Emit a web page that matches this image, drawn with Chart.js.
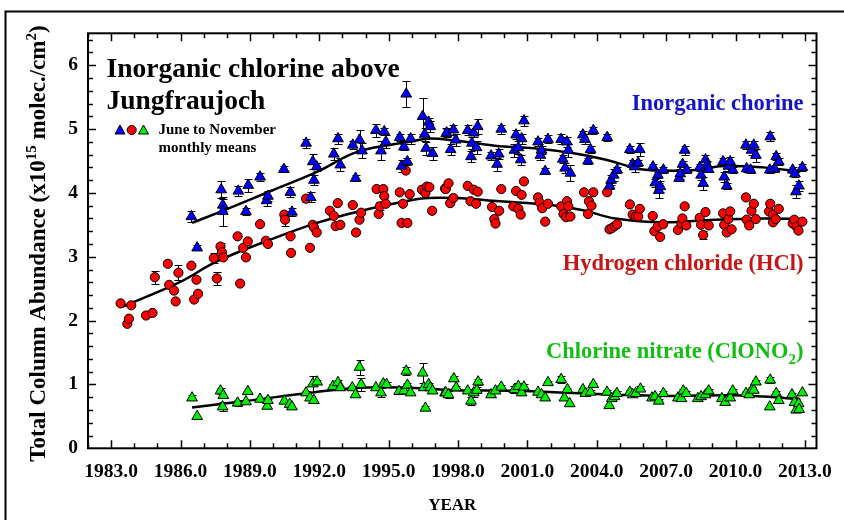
<!DOCTYPE html>
<html>
<head>
<meta charset="utf-8">
<script src="https://cdn.jsdelivr.net/npm/chart.js@4.4.1/dist/chart.umd.min.js"></script>
<style>
  html, body { margin: 0; padding: 0; background: #fff; }
  #wrap { width: 844px; height: 520px; }
</style>
</head>
<body>
<div id="wrap"><canvas id="myChart" width="844" height="520"></canvas></div>
<script>
// June-November monthly means, [year, value, error] (x10^15 molec./cm2)
var inorgPts = [
  [1986.47,3.63,0.08],[1986.72,3.14,0.04],[1987.76,4.05,0.13],[1987.83,3.81,0.10],[1987.83,3.71,0.23],
  [1988.50,4.03,0.08],[1988.83,3.71,0.05],[1988.93,4.12,0.10],[1989.44,4.25,0.06],[1989.72,3.88,0.08],
  [1989.78,3.95,0.08],[1990.47,4.37,0.05],[1990.75,4.01,0.08],[1990.82,3.70,0.06],[1991.43,4.78,0.07],
  [1991.63,3.93,0.08],[1991.72,4.49,0.12],[1991.77,4.20,0.08],[1991.89,4.41,0.06],[1992.63,4.61,0.10],
  [1992.81,4.85,0.08],[1992.91,4.44,0.10],[1993.45,4.75,0.06],[1993.57,4.23,0.05],[1993.74,4.83,0.15],
  [1993.85,4.66,0.12],[1994.45,4.98,0.10],[1994.67,4.66,0.15],[1994.81,4.96,0.05],[1994.88,4.80,0.10],
  [1995.48,4.87,0.06],[1995.56,4.42,0.10],[1995.66,4.72,0.05],[1995.76,5.55,0.20],[1995.81,4.49,0.06],
  [1995.95,4.85,0.08],[1996.47,5.20,0.28],[1996.56,4.92,0.10],[1996.62,4.70,0.10],[1996.73,5.11,0.06],
  [1996.80,5.04,0.08],[1996.90,4.62,0.10],[1997.49,4.93,0.08],[1997.51,4.94,0.06],[1997.68,4.68,0.08],
  [1997.80,4.99,0.08],[1997.90,4.83,0.10],[1998.42,4.98,0.08],[1998.56,4.57,0.08],[1998.60,4.78,0.10],
  [1998.68,4.94,0.06],[1998.80,4.71,0.10],[1998.85,5.04,0.12],[1999.43,4.58,0.06],[1999.69,4.45,0.10],
  [1999.76,4.61,0.08],[1999.87,5.00,0.07],[2000.44,4.67,0.10],[2000.51,4.91,0.07],[2000.61,4.71,0.10],
  [2000.71,4.52,0.08],[2000.75,4.85,0.08],[2000.85,5.13,0.08],[2001.46,4.80,0.06],[2001.56,4.59,0.08],
  [2001.61,4.67,0.06],[2001.77,4.34,0.05],[2001.89,4.84,0.06],[2002.46,4.84,0.08],[2002.53,4.53,0.06],
  [2002.63,4.39,0.08],[2002.71,4.80,0.08],[2002.77,4.67,0.10],[2002.86,4.31,0.12],[2003.40,4.91,0.06],
  [2003.49,4.84,0.08],[2003.62,4.50,0.05],[2003.73,4.68,0.06],[2003.85,4.98,0.05],[2004.45,4.87,0.06],
  [2004.55,4.11,0.05],[2004.62,4.20,0.08],[2004.73,4.28,0.10],[2004.88,4.36,0.05],[2005.43,4.68,0.05],
  [2005.55,4.45,0.06],[2005.64,4.41,0.08],[2005.79,4.47,0.05],[2005.86,4.68,0.10],[2006.43,4.41,0.05],
  [2006.53,4.16,0.06],[2006.64,4.28,0.05],[2006.68,4.04,0.12],[2006.75,4.10,0.08],[2006.88,4.36,0.05],
  [2007.56,4.23,0.05],[2007.61,4.30,0.08],[2007.71,4.45,0.05],[2007.80,4.67,0.07],[2007.89,4.36,0.05],
  [2008.45,4.40,0.05],[2008.51,4.28,0.08],[2008.60,4.15,0.10],[2008.70,4.52,0.07],[2008.77,4.44,0.06],
  [2008.84,4.37,0.05],[2009.46,4.49,0.05],[2009.51,4.25,0.08],[2009.62,4.11,0.05],[2009.69,4.42,0.08],
  [2009.77,4.49,0.07],[2009.88,4.36,0.05],[2010.45,4.75,0.06],[2010.48,4.38,0.05],[2010.65,4.36,0.05],
  [2010.69,4.67,0.08],[2010.79,4.75,0.07],[2010.88,4.59,0.10],[2011.48,4.36,0.05],[2011.50,4.88,0.07],
  [2011.69,4.38,0.06],[2011.76,4.57,0.05],[2011.87,4.49,0.06],[2012.47,4.36,0.05],[2012.57,4.30,0.05],
  [2012.61,4.02,0.10],[2012.74,4.11,0.08],[2012.89,4.40,0.05]
];
var hclPts = [
  [1983.41,2.27,0],[1983.70,1.95,0],[1983.77,2.03,0],[1983.87,2.24,0],[1984.51,2.08,0],[1984.79,2.12,0],
  [1984.89,2.68,0.10],[1985.45,2.89,0],[1985.51,2.56,0],[1985.72,2.47,0],[1985.79,2.30,0],[1985.91,2.75,0.12],
  [1986.47,2.86,0],[1986.59,2.33,0],[1986.69,2.64,0],[1986.76,2.42,0],[1987.44,2.98,0.08],[1987.57,2.66,0.10],
  [1987.73,3.16,0.05],[1987.79,3.07,0],[1987.85,2.99,0],[1988.47,3.32,0],[1988.58,2.58,0],[1988.71,3.14,0],
  [1988.83,2.99,0],[1988.91,3.24,0],[1989.44,3.51,0],[1989.69,3.25,0],[1989.78,3.20,0],[1990.49,3.66,0],
  [1990.52,3.58,0.10],[1990.76,3.32,0],[1990.78,3.06,0],[1991.43,3.91,0.05],[1991.60,3.14,0],[1991.72,3.50,0],
  [1991.77,3.46,0],[1991.89,3.38,0],[1992.46,3.72,0],[1992.63,3.64,0],[1992.71,3.48,0],[1992.80,3.84,0],
  [1992.91,3.50,0],[1993.45,3.81,0],[1993.59,3.38,0],[1993.74,3.58,0],[1993.81,3.69,0],[1994.48,4.06,0],
  [1994.57,3.67,0],[1994.62,3.79,0.06],[1994.77,4.06,0],[1994.81,3.95,0],[1994.88,3.83,0],[1995.48,4.01,0],
  [1995.56,3.53,0],[1995.62,3.83,0],[1995.74,4.35,0],[1995.81,3.53,0],[1995.91,3.98,0],[1996.44,4.05,0],
  [1996.59,4.00,0],[1996.66,4.10,0],[1996.76,4.09,0],[1996.88,3.72,0],[1997.44,4.07,0],[1997.47,4.06,0],
  [1997.59,4.15,0],[1997.66,3.84,0],[1997.80,3.92,0],[1998.42,4.11,0],[1998.54,3.87,0],[1998.68,4.05,0],
  [1998.78,3.83,0],[1998.85,4.02,0],[1999.47,3.78,0],[1999.57,3.59,0],[1999.62,3.52,0],[1999.78,3.72,0],
  [1999.87,4.06,0],[2000.39,3.79,0],[2000.51,4.03,0],[2000.61,3.75,0],[2000.71,3.66,0],[2000.75,3.97,0],
  [2000.85,4.18,0],[2001.46,3.93,0],[2001.53,3.85,0],[2001.64,3.76,0],[2001.77,3.55,0],[2001.89,3.83,0],
  [2002.46,3.79,0],[2002.56,3.67,0],[2002.67,3.62,0],[2002.71,3.87,0],[2002.77,3.79,0],[2002.86,3.63,0],
  [2003.45,4.01,0],[2003.62,3.67,0],[2003.66,3.87,0],[2003.77,3.80,0],[2003.85,4.01,0],[2004.45,4.01,0],
  [2004.55,3.43,0],[2004.66,3.45,0],[2004.78,3.48,0],[2004.88,3.51,0],[2005.43,3.82,0],[2005.55,3.66,0],
  [2005.68,3.63,0],[2005.79,3.63,0],[2005.86,3.75,0],[2006.42,3.64,0],[2006.49,3.40,0],[2006.63,3.47,0],
  [2006.74,3.31,0],[2006.87,3.51,0],[2007.51,3.42,0],[2007.66,3.52,0],[2007.70,3.60,0],[2007.80,3.79,0],
  [2007.87,3.49,0],[2008.45,3.61,0],[2008.51,3.50,0],[2008.60,3.34,0.06],[2008.70,3.70,0],[2008.84,3.49,0],
  [2009.46,3.68,0],[2009.51,3.50,0],[2009.62,3.38,0],[2009.69,3.59,0],[2009.77,3.71,0],[2009.83,3.43,0],
  [2010.45,3.93,0],[2010.48,3.58,0],[2010.59,3.49,0],[2010.69,3.72,0],[2010.79,3.83,0],[2010.88,3.59,0],
  [2011.45,3.71,0],[2011.50,3.83,0],[2011.62,3.66,0],[2011.62,3.54,0],[2011.74,3.59,0],[2011.87,3.75,0],
  [2012.47,3.52,0],[2012.54,3.58,0],[2012.64,3.47,0],[2012.72,3.41,0],[2012.89,3.55,0]
];
var clono2Pts = [
  [1986.50,0.79,0.04],[1986.72,0.50,0],[1987.73,0.90,0.05],[1987.82,0.65,0.07],[1987.85,0.83,0],
  [1988.47,0.71,0.04],[1988.83,0.73,0],[1988.91,0.89,0],[1989.44,0.77,0],[1989.75,0.66,0],
  [1989.78,0.75,0.03],[1990.49,0.74,0],[1990.72,0.69,0],[1990.82,0.65,0],[1991.43,0.87,0.03],
  [1991.60,0.79,0],[1991.72,1.01,0.13],[1991.77,0.75,0],[1991.91,1.04,0.03],[1992.59,0.97,0.03],
  [1992.81,1.03,0.04],[1992.91,0.95,0.03],[1993.43,0.95,0.03],[1993.57,0.84,0],[1993.74,1.27,0.12],
  [1993.81,1.00,0.10],[1994.45,0.95,0.03],[1994.67,0.87,0.07],[1994.77,1.01,0.03],[1994.91,1.00,0.04],
  [1995.45,0.89,0],[1995.66,0.90,0],[1995.76,1.21,0.06],[1995.81,0.99,0.03],[1995.95,0.87,0],
  [1996.47,1.18,0.16],[1996.52,0.95,0],[1996.59,0.63,0.03],[1996.73,1.00,0.03],[1996.80,0.95,0],
  [1996.90,0.90,0],[1997.44,0.87,0.03],[1997.47,0.87,0],[1997.59,0.84,0.05],[1997.82,1.09,0.04],
  [1997.92,0.95,0.03],[1998.42,0.90,0.03],[1998.56,0.74,0.06],[1998.68,0.87,0.06],[1998.81,0.91,0.05],
  [1998.87,1.04,0.05],[1999.43,0.84,0.03],[1999.62,0.90,0.03],[1999.87,0.96,0.03],[2000.44,0.92,0.06],
  [2000.61,0.97,0.05],[2000.75,0.87,0.03],[2000.85,0.96,0.05],[2001.46,0.88,0.03],[2001.61,0.84,0.03],
  [2001.77,0.79,0],[2001.89,1.03,0.03],[2002.46,1.08,0.05],[2002.60,0.79,0],[2002.73,0.92,0.03],
  [2002.83,0.70,0],[2003.40,0.92,0.03],[2003.51,0.86,0.03],[2003.73,0.88,0.03],[2003.85,1.00,0.03],
  [2004.44,0.88,0.03],[2004.54,0.67,0],[2004.65,0.78,0.03],[2004.77,0.81,0],[2004.87,0.86,0.03],
  [2005.43,0.88,0.03],[2005.55,0.84,0],[2005.68,0.86,0.03],[2005.89,0.93,0.04],[2006.39,0.79,0.03],
  [2006.52,0.81,0],[2006.68,0.74,0.03],[2006.88,0.86,0.03],[2007.51,0.79,0.03],[2007.66,0.78,0],
  [2007.74,0.90,0.03],[2007.87,0.86,0.03],[2008.37,0.78,0.03],[2008.51,0.81,0],[2008.70,0.84,0.03],
  [2008.84,0.90,0.03],[2009.41,0.78,0.03],[2009.55,0.72,0],[2009.77,0.79,0],[2009.88,0.90,0.03],
  [2010.45,0.86,0.03],[2010.59,0.84,0],[2010.73,0.93,0.03],[2010.79,0.91,0],[2010.88,1.04,0.03],
  [2011.50,1.07,0.04],[2011.48,0.65,0],[2011.76,0.86,0.03],[2011.87,0.75,0],[2012.44,0.84,0.03],
  [2012.55,0.72,0],[2012.62,0.60,0],[2012.73,0.70,0],[2012.75,0.61,0],[2012.89,0.87,0]
];

// smoothed fits
var inorgFitYears = [1986.5, 1987.9, 1989.9, 1991.9, 1993.7, 1995.9, 1996.7, 1997.9, 1999.8, 2001.3, 2003.0, 2004.4, 2005.8, 2006.9, 2008.3, 2009.5, 2011.2, 2012.8];
var inorgFitVals  = [3.53, 3.73, 4.03, 4.33, 4.65, 4.80, 4.85, 4.82, 4.73, 4.70, 4.62, 4.52, 4.38, 4.35, 4.36, 4.42, 4.40, 4.33];
var hclFitYears = [1983.5, 1985.9, 1987.6, 1989.9, 1991.9, 1993.7, 1995.9, 1996.7, 1997.9, 1999.8, 2002.0, 2003.4, 2004.8, 2006.9, 2009.1, 2011.2, 2012.8];
var hclFitVals  = [2.22, 2.59, 2.93, 3.27, 3.53, 3.71, 3.88, 3.92, 3.92, 3.87, 3.81, 3.73, 3.60, 3.54, 3.58, 3.60, 3.59];
var clono2FitYears = [1986.5, 1988.8, 1991.6, 1993.7, 1995.9, 1997.9, 2000.5, 2002.7, 2004.8, 2006.9, 2009.8, 2011.2, 2012.8];
var clono2FitVals  = [0.64, 0.74, 0.87, 0.95, 0.95, 0.91, 0.90, 0.87, 0.84, 0.82, 0.83, 0.81, 0.77];

var xTickYears = [1983, 1986, 1989, 1992, 1995, 1998, 2001, 2004, 2007, 2010, 2013];
var yTickVals = [0, 1, 2, 3, 4, 5, 6];

var serif = '"Liberation Serif", "Times New Roman", serif';

function toPts(arr) {
  return arr.map(function (p) { return {x: p[0], y: p[1], e: p[2]}; });
}
function toLine(xs, ys) {
  return xs.map(function (x, i) { return {x: x, y: ys[i]}; });
}

function fitSet(xs, ys) {
  return {
    data: toLine(xs, ys), showLine: true, borderColor: '#000', borderWidth: 2.5,
    pointRadius: 0, tension: 0.4, order: 5
  };
}
function ptSet(pts, style, color, r) {
  return {
    data: toPts(pts), showLine: false, pointStyle: style, pointRadius: r,
    backgroundColor: color, borderColor: '#000', borderWidth: 1, errorBars: true, order: 1
  };
}

// error bars, frame, inward ticks and all annotation text
var decor = {
  id: 'decor',
  beforeDraw: function (chart) {
    var ctx = chart.ctx;
    ctx.save();
    ctx.fillStyle = '#fff';
    ctx.fillRect(0, 0, chart.width, chart.height);
    ctx.strokeStyle = '#000';
    ctx.lineWidth = 2;
    ctx.beginPath();
    ctx.moveTo(5.5, 520);
    ctx.lineTo(5.5, 11.5);
    ctx.lineTo(844, 11.5);
    ctx.stroke();
    ctx.restore();
  },
  beforeDatasetsDraw: function (chart) {
    var ctx = chart.ctx, ys = chart.scales.y;
    ctx.save();
    ctx.strokeStyle = '#000';
    ctx.lineWidth = 1;
    chart.data.datasets.forEach(function (ds, i) {
      if (!ds.errorBars) return;
      var meta = chart.getDatasetMeta(i);
      meta.data.forEach(function (el, j) {
        var d = ds.data[j];
        if (!d.e) return;
        var y1 = Math.round(ys.getPixelForValue(d.y + d.e)) + 0.5;
        var y2 = Math.round(ys.getPixelForValue(d.y - d.e)) + 0.5;
        var x = Math.round(el.x) + 0.5;
        ctx.beginPath();
        ctx.moveTo(x, y1); ctx.lineTo(x, y2);
        ctx.moveTo(x - 4, y1); ctx.lineTo(x + 4, y1);
        ctx.moveTo(x - 4, y2); ctx.lineTo(x + 4, y2);
        ctx.stroke();
      });
    });
    ctx.restore();
  },
  afterDraw: function (chart) {
    var ctx = chart.ctx, a = chart.chartArea;
    var xs = chart.scales.x, ys = chart.scales.y;
    ctx.save();
    ctx.strokeStyle = '#000';
    // inward ticks
    ctx.lineWidth = 1.5;
    ctx.beginPath();
    for (var yr = 1982; yr <= 2013; yr++) {
      var px = Math.round(xs.getPixelForValue(yr)) + 0.5;
      var len = xTickYears.indexOf(yr) >= 0 ? 8 : 5;
      ctx.moveTo(px, a.bottom); ctx.lineTo(px, a.bottom - len);
      ctx.moveTo(px, a.top); ctx.lineTo(px, a.top + len);
    }
    for (var k = 1; k <= 32; k++) {
      var v = k / 5;
      var py = Math.round(ys.getPixelForValue(v)) + 0.5;
      var l2 = (k % 5 === 0) ? 8 : 5;
      ctx.moveTo(a.left, py); ctx.lineTo(a.left + l2, py);
      ctx.moveTo(a.right, py); ctx.lineTo(a.right - l2, py);
    }
    ctx.stroke();
    // frame
    ctx.lineWidth = 2;
    ctx.strokeRect(a.left, a.top, a.right - a.left, a.bottom - a.top);

    // title
    ctx.fillStyle = '#000';
    ctx.textAlign = 'left';
    ctx.textBaseline = 'alphabetic';
    ctx.font = 'bold 27.5px ' + serif;
    ctx.fillText('Inorganic chlorine above', 106.5, 77);
    ctx.fillText('Jungfraujoch', 106.5, 109);

    // legend icons
    function tri(x, y, fill) {
      ctx.beginPath();
      ctx.moveTo(x, y - 5);
      ctx.lineTo(x + 5, y + 4);
      ctx.lineTo(x - 5, y + 4);
      ctx.closePath();
      ctx.fillStyle = fill; ctx.fill();
      ctx.lineWidth = 1; ctx.strokeStyle = '#000'; ctx.stroke();
    }
    tri(120, 130, '#0000ff');
    ctx.beginPath();
    ctx.arc(131.7, 130, 4.5, 0, Math.PI * 2);
    ctx.fillStyle = '#ff0000'; ctx.fill(); ctx.stroke();
    tri(143.5, 130, '#00ee00');
    ctx.fillStyle = '#000';
    ctx.font = 'bold 15px ' + serif;
    ctx.fillText('June to November', 158.5, 134);
    ctx.fillText('monthly means', 158.5, 152);

    // series labels
    ctx.textAlign = 'right';
    ctx.font = 'bold 22.5px ' + serif;
    ctx.fillStyle = '#1414c8';
    ctx.fillText('Inorganic chorine', 803.5, 110);
    ctx.fillStyle = '#c81414';
    ctx.fillText('Hydrogen chloride (HCl)', 803.5, 270);
    ctx.fillStyle = '#14be14';
    ctx.font = 'bold 22.5px ' + serif;
    var tClose = ')';
    var wClose = ctx.measureText(tClose).width;
    ctx.fillText(tClose, 803.5, 358);
    ctx.font = 'bold 15px ' + serif;
    var wSub = ctx.measureText('2').width;
    ctx.fillText('2', 803.5 - wClose, 364);
    ctx.font = 'bold 22.5px ' + serif;
    ctx.fillText('Chlorine nitrate (ClONO', 803.5 - wClose - wSub, 358);

    // x axis title
    ctx.textAlign = 'center';
    ctx.fillStyle = '#000';
    ctx.font = 'bold 17px ' + serif;
    ctx.fillText('YEAR', (a.left + a.right) / 2, 510);

    // y axis title with superscripts
    var parts = [
      ['Total Column Abundance (x10', 23, 0],
      ['15', 15, -9],
      [' molec./cm', 23, 0],
      ['2', 15, -9],
      [')', 23, 0]
    ];
    var total = 0;
    parts.forEach(function (p) {
      ctx.font = 'bold ' + p[1] + 'px ' + serif;
      p.push(ctx.measureText(p[0]).width);
      total += p[3];
    });
    ctx.translate(45, 243.5);
    ctx.rotate(-Math.PI / 2);
    ctx.textAlign = 'left';
    var cx = -total / 2;
    parts.forEach(function (p) {
      ctx.font = 'bold ' + p[1] + 'px ' + serif;
      ctx.fillText(p[0], cx, p[2]);
      cx += p[3];
    });
    ctx.restore();
  }
};

var ctx = document.getElementById('myChart');

var chart = new Chart(ctx, {
  type: 'scatter',
  data: {
    datasets: [
      fitSet(inorgFitYears, inorgFitVals),
      fitSet(hclFitYears, hclFitVals),
      fitSet(clono2FitYears, clono2FitVals),
      ptSet(inorgPts, 'triangle', '#0000ff', 6.2),
      ptSet(hclPts, 'circle', '#ff0000', 4.6),
      ptSet(clono2Pts, 'triangle', '#00ee00', 6.2)
    ]
  },
  options: {
    responsive: false,
    devicePixelRatio: 1,
    animation: false,
    events: [],
    layout: { padding: { left: 0, top: 33.3, right: 16.5, bottom: 0 } },
    plugins: { legend: { display: false }, tooltip: { enabled: false } },
    scales: {
      x: {
        type: 'linear', min: 1982, max: 2013.5,
        grid: { display: false, drawTicks: false },
        border: { display: false },
        afterBuildTicks: function (s) { s.ticks = xTickYears.map(function (v) { return {value: v}; }); },
        afterFit: function (s) { s.height = 71.7; },
        ticks: {
          autoSkip: false, maxRotation: 0, padding: 12, color: '#000',
          font: { family: serif, size: 19.5, weight: 'bold' },
          callback: function (v) { return v.toFixed(1); }
        }
      },
      y: {
        type: 'linear', min: 0, max: 6.5,
        grid: { display: false, drawTicks: false },
        border: { display: false },
        afterBuildTicks: function (s) { s.ticks = yTickVals.map(function (v) { return {value: v}; }); },
        afterFit: function (s) { s.width = 88; },
        ticks: {
          padding: 10, color: '#000',
          font: { family: serif, size: 19.5, weight: 'bold' },
          callback: function (v) { return String(v); }
        }
      }
    }
  },
  plugins: [decor]
});
</script>
</body>
</html>
